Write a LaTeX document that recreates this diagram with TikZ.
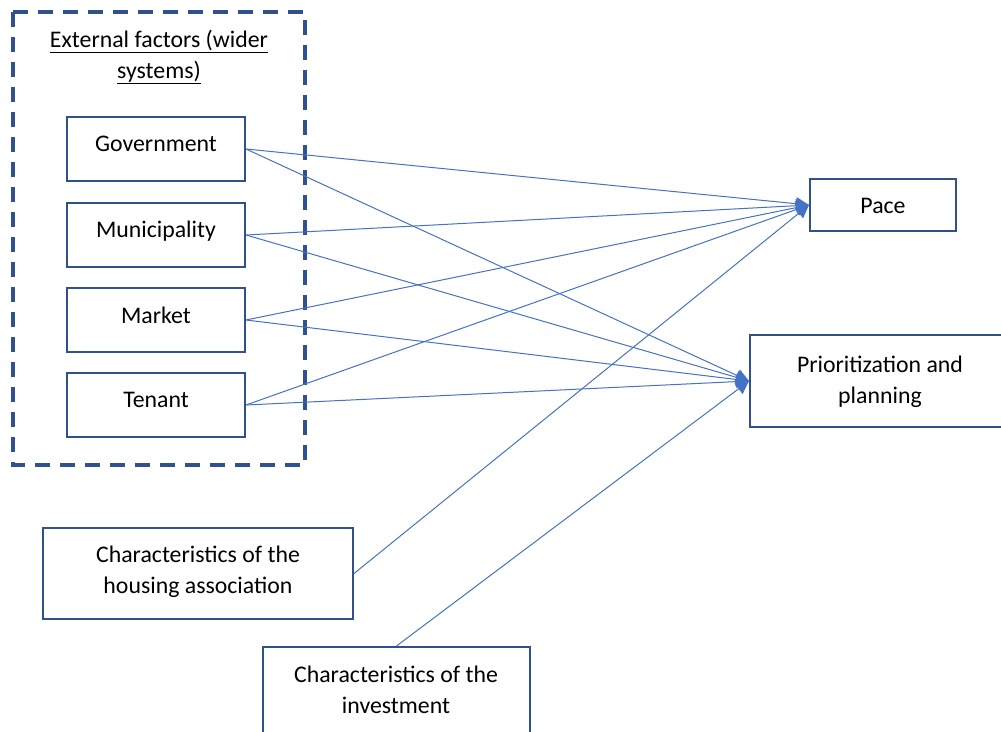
\documentclass[tikz,border=0pt]{standalone}
\usepackage{fontspec}
\setmainfont{Carlito}
\usetikzlibrary{arrows.meta}
\definecolor{boxblue}{HTML}{2F528F}
\definecolor{lineblue}{HTML}{4472C4}
\begin{document}
\begin{tikzpicture}[x=1pt,y=-1pt,
  every node/.style={font=\fontsize{23.8}{31}\selectfont, text=black},
  box/.style={draw=boxblue, line width=2pt, fill=none, inner sep=0pt},
  lbl/.style={align=center, inner sep=0pt},
  conn/.style={draw=lineblue, line width=1pt},
  arr/.style={conn, -{Triangle[length=13pt,width=13pt]}}
]
\useasboundingbox (0,0) rectangle (1001,731);
\clip (0,0) rectangle (1001,731);
% dashed frame
\draw[draw=boxblue, line width=3.5pt, dash pattern=on 15pt off 10pt] (13,12) rectangle (305,465);
\node[lbl] (title) at (159,57) {\underline{External factors (wider}\\\underline{systems)}};
% left boxes
\node[box, minimum width=178pt, minimum height=64pt] (gov) at (156,149) {};
\node[lbl] (govt) at (156,144) {Government};
\node[box, minimum width=178pt, minimum height=64pt] (mun) at (156,235) {};
\node[lbl] (munt) at (156,231) {Municipality};
\node[box, minimum width=178pt, minimum height=64pt] (mar) at (156,320) {};
\node[lbl] (mart) at (156,315) {Market};
\node[box, minimum width=178pt, minimum height=64pt] (ten) at (156,405) {};
\node[lbl] (tent) at (156,400) {Tenant};
% right boxes
\node[box, minimum width=146pt, minimum height=52pt] (pace) at (883,205) {};
\node[lbl] (pacet) at (883,206) {Pace};
\node[box, minimum width=252pt, minimum height=92pt] (prio) at (876,381) {};
\node[lbl] (priot) at (880,382) {Prioritization and\\planning};
% bottom boxes
\node[box, minimum width=310pt, minimum height=91pt] (hous) at (198,573.5) {};
\node[lbl] (houst) at (198,572) {Characteristics of the\\housing association};
\node[box, minimum width=267pt, minimum height=100pt] (inv) at (396.5,697) {};
\node[lbl] (invt) at (396,690) {Characteristics of the\\investment};
% connectors
\foreach \s in {gov,mun,mar,ten}{
  \draw[arr] (\s.east) -- (pace.west);
  \draw[arr] (\s.east) -- (prio.west);
}
\draw[arr] (hous.east) -- (pace.west);
\draw[arr] (inv.north) -- (prio.west);
\end{tikzpicture}
\end{document}
